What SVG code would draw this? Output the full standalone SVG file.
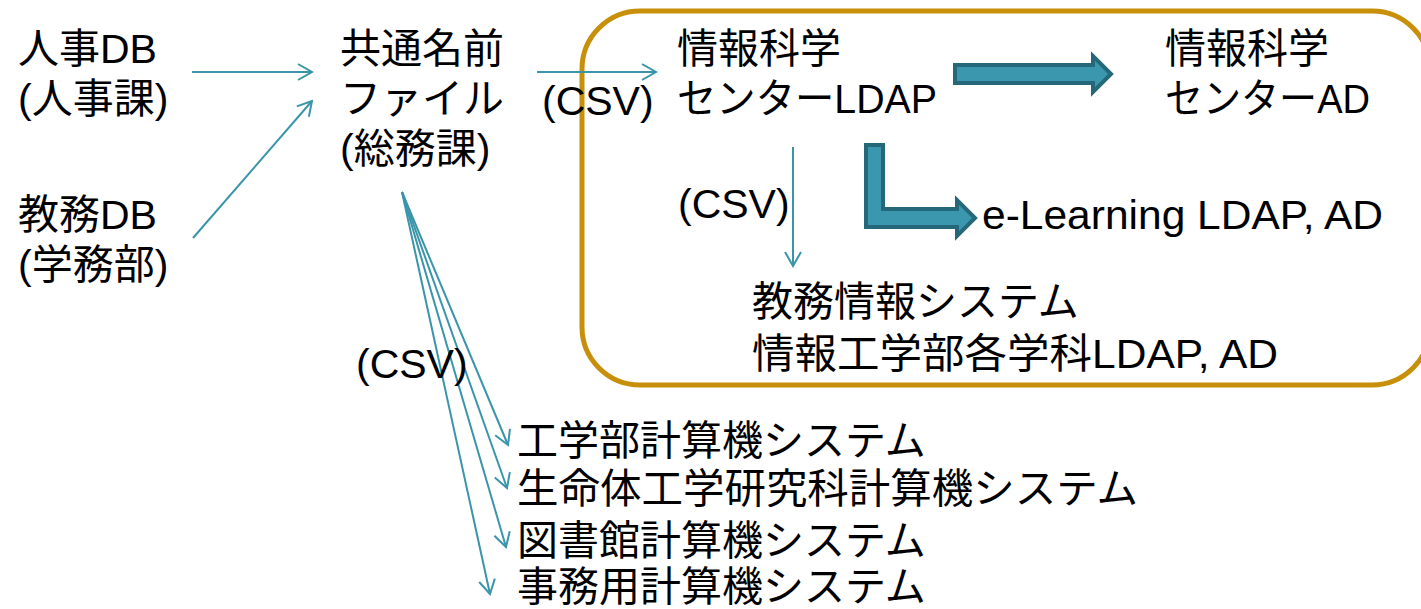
<svg xmlns="http://www.w3.org/2000/svg" width="1421" height="609" viewBox="0 0 1421 609">
<defs>
<style>
text{font-family:"Liberation Sans","Noto Sans CJK JP",sans-serif;font-size:41px;fill:#000}
.thin{stroke:#3A95AA;stroke-width:2;fill:none}
.block{fill:#3B97AD;stroke:#24687A;stroke-width:4;stroke-linejoin:miter}
</style>
<marker id="ah" viewBox="0 0 20 20" refX="18" refY="10" markerWidth="20" markerHeight="20" markerUnits="userSpaceOnUse" orient="auto">
<path d="M4,2 L18,10 L4,18" fill="none" stroke="#3A95AA" stroke-width="2"/>
</marker>
</defs>
<rect width="1421" height="609" fill="#fff"/>
<g id="frame">
<rect x="582" y="11" width="848" height="374" rx="58" ry="58" fill="none" stroke="#C8900A" stroke-width="5"/>
</g>
<g id="connectors">
<line class="thin" x1="192" y1="72" x2="312" y2="72" marker-end="url(#ah)"/>
<line class="thin" x1="193" y1="238" x2="312" y2="101" marker-end="url(#ah)"/>
<line class="thin" x1="537" y1="72" x2="656" y2="72" marker-end="url(#ah)"/>
<line class="thin" x1="793" y1="147" x2="793" y2="266" marker-end="url(#ah)"/>
<line class="thin" x1="402" y1="192" x2="508" y2="445" marker-end="url(#ah)"/>
<line class="thin" x1="402" y1="192" x2="507" y2="488" marker-end="url(#ah)"/>
<line class="thin" x1="402" y1="192" x2="506" y2="547" marker-end="url(#ah)"/>
<line class="thin" x1="402" y1="192" x2="490" y2="594" marker-end="url(#ah)"/>
<path class="block" d="M955,65 L1093,65 L1093,56 L1111,74 L1093,92 L1093,83 L955,83 Z"/>
<path class="block" d="M866,145 L883,145 L883,209 L957,209 L957,200 L975,218 L957,236 L957,227 L866,227 Z"/>
</g>
<g id="n-jinji"><text x="18" y="63">人事DB</text><text x="18" y="113">(人事課)</text></g>
<g id="n-kyomu"><text x="18" y="229">教務DB</text><text x="18" y="279">(学務部)</text></g>
<g id="n-kyotsu"><text x="340" y="63">共通名前</text><text x="340" y="113">ファイル</text><text x="340" y="163">(総務課)</text></g>
<g id="l-csv1"><text x="542" y="115">(CSV)</text></g>
<g id="n-ldap"><text x="677" y="63">情報科学</text><text x="677" y="113" textLength="260" lengthAdjust="spacingAndGlyphs">センターLDAP</text></g>
<g id="n-ad"><text x="1165" y="63">情報科学</text><text x="1165" y="113" textLength="205" lengthAdjust="spacingAndGlyphs">センターAD</text></g>
<g id="l-csv2"><text x="678" y="218">(CSV)</text></g>
<g id="n-elearn"><text x="982" y="229" textLength="401" lengthAdjust="spacingAndGlyphs">e-Learning LDAP, AD</text></g>
<g id="n-kyomujoho"><text x="752" y="316">教務情報システム</text><text x="752" y="368" textLength="526" lengthAdjust="spacingAndGlyphs">情報工学部各学科LDAP, AD</text></g>
<g id="l-csv3"><text x="356" y="378">(CSV)</text></g>
<g id="n-kogaku"><text x="517" y="455">工学部計算機システム</text></g>
<g id="n-seimei"><text x="517" y="503" textLength="621" lengthAdjust="spacingAndGlyphs">生命体工学研究科計算機システム</text></g>
<g id="n-tosho"><text x="517" y="555">図書館計算機システム</text></g>
<g id="n-jimu"><text x="517" y="601">事務用計算機システム</text></g>
</svg>
